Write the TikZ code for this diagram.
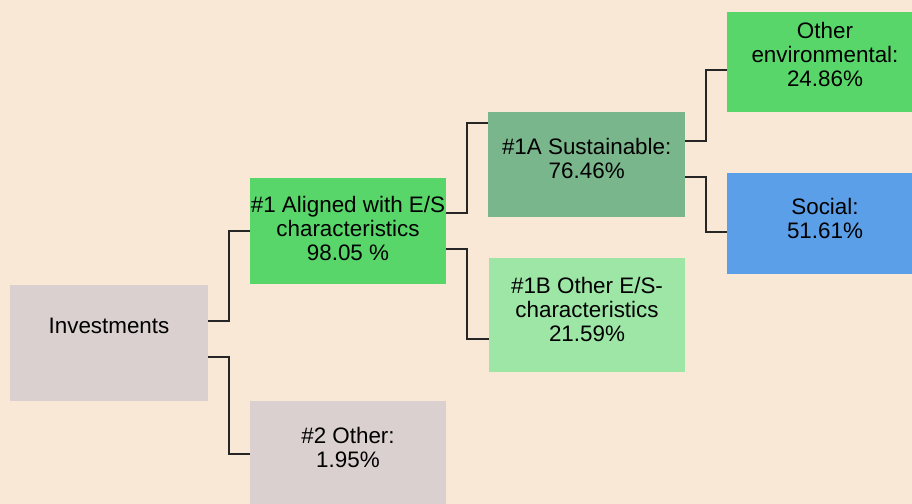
\documentclass[tikz,border=0pt]{standalone}
\usepackage{fontspec}
\setmainfont{Liberation Sans}
\usepackage{xcolor}
\usepackage{tikz}

\definecolor{bg_beige}{RGB}{249,232,214}
\definecolor{box_gray}{RGB}{217,208,207}
\definecolor{box_green}{RGB}{88,214,106}
\definecolor{box_sage}{RGB}{122,182,140}
\definecolor{box_mint}{RGB}{157,230,166}
\definecolor{box_blue}{RGB}{91,159,232}

\begin{document}
\begin{tikzpicture}[
      x=0.5pt, y=-0.5pt,
      box_style/.style={inner sep=0pt, align=center, minimum width=98pt,
        font=\fontsize{11.2}{12}\selectfont},
      link_style/.style={draw=black!85, line width=1pt}
  ]

  % 1. Sfondo
  \clip (0, 0) rectangle (912, 504);
  \fill[bg_beige] (0, 0) rectangle (912, 504);

  % 2. Riquadri
  \node[box_style, fill=box_gray, minimum width=99pt, minimum height=57.75pt, text depth=17pt]
    (inv) at (109, 342.75) {Investments};
  \node[box_style, fill=box_green, minimum height=53pt, text depth=3pt]
    (al1) at (348, 231) {\#1 Aligned with E/S\\characteristics\\98.05 \%};
  \node[box_style, fill=box_gray, minimum height=53pt, text depth=6.3pt]
    (oth2) at (348, 454) {\#2 Other:\\1.95\%};
  \node[box_style, fill=box_sage, minimum width=98.3pt, minimum height=52.2pt, text depth=6pt]
    (sus1a) at (586.7, 164.5) {\#1A Sustainable:\\76.46\%};
  \node[box_style, fill=box_mint, minimum height=57pt, text depth=5.6pt]
    (oth1b) at (587, 315) {\#1B Other E/S-\\characteristics\\21.59\%};
  \node[box_style, fill=box_green, minimum height=50pt, text depth=7.2pt]
    (env) at (825, 61.7) {Other\\environmental:\\24.86\%};
  \node[box_style, fill=box_blue, minimum height=50.5pt, text depth=5pt]
    (soc) at (825, 223.5) {Social:\\51.61\%};

  % 3. Collegamenti
  \draw[link_style] ([yshift=10.9pt]inv.east) -- ++(21, 0) |- (al1.west);
  \draw[link_style] ([yshift=-7.1pt]inv.east) -- ++(21, 0) |- (oth2.west);
  \draw[link_style] ([yshift=9pt]al1.east) -- ++(21, 0) |- ([yshift=20.75pt]sus1a.west);
  \draw[link_style] ([yshift=-9pt]al1.east) -- ++(21, 0) |- ([yshift=-12pt]oth1b.west);
  \draw[link_style] ([yshift=11.75pt]sus1a.east) -- ++(21, 0) |- ([yshift=-4.15pt]env.west);
  \draw[link_style] ([yshift=-6.25pt]sus1a.east) -- ++(21, 0) |- ([yshift=-4.25pt]soc.west);

\end{tikzpicture}
\end{document}
